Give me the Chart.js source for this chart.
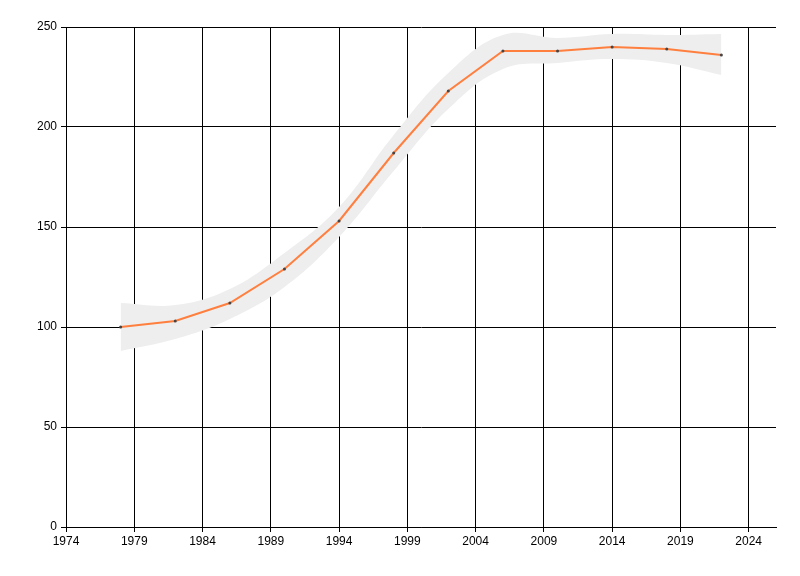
<!DOCTYPE html>
<html>
<head>
<meta charset="utf-8">
<script src="https://cdn.jsdelivr.net/npm/chart.js@4/dist/chart.umd.min.js"></script>
<style>
html,body{margin:0;padding:0;background:#fff;}
#wrap{width:800px;height:576px;}
</style>
</head>
<body>
<div id="wrap"><canvas id="c" width="800" height="576"></canvas></div>
<script>
const years = [1978, 1982, 1986, 1990, 1994, 1998, 2002, 2006, 2010, 2014, 2018, 2022];
const values = [100, 103, 112, 129, 153, 187, 218, 238, 238, 240, 239, 236];
const upperBand = [112, 111, 119, 137, 160, 196, 227, 246, 244.5, 246.5, 246, 246.5];
const lowerBand = [88, 94, 104, 120, 145, 178, 209, 229, 232, 234, 232, 226];
const xTicks = [1974, 1979, 1984, 1989, 1994, 1999, 2004, 2009, 2014, 2019, 2024];
const yTicks = [0, 50, 100, 150, 200, 250];

const toPts = arr => years.map((y, i) => ({x: y, y: arr[i]}));

Chart.defaults.font.family = '"Liberation Sans", Arial, sans-serif';
Chart.defaults.font.size = 12;
Chart.defaults.color = '#000';

new Chart(document.getElementById('c'), {
  type: 'line',
  data: {
    datasets: [
      {
        label: 'value',
        data: toPts(values),
        borderColor: '#ff7f3f',
        borderWidth: 2,
        pointRadius: 1.5,
        pointBackgroundColor: '#444',
        pointBorderColor: '#444',
        pointBorderWidth: 0,
        tension: 0,
        fill: false
      },
      {
        label: 'upper',
        data: toPts(upperBand),
        borderWidth: 0,
        borderColor: 'rgba(0,0,0,0)',
        pointRadius: 0,
        tension: 0.4,
        backgroundColor: '#eeeeee',
        fill: '+1'
      },
      {
        label: 'lower',
        data: toPts(lowerBand),
        borderWidth: 0,
        borderColor: 'rgba(0,0,0,0)',
        pointRadius: 0,
        tension: 0.4,
        fill: false
      }
    ]
  },
  options: {
    responsive: false,
    animation: false,
    layout: {padding: {left: 0, top: 27, right: 24, bottom: 0}},
    plugins: {legend: {display: false}, tooltip: {enabled: false}},
    scales: {
      x: {
        type: 'linear',
        min: 1974,
        max: 2026,
        afterBuildTicks: s => { s.ticks = xTicks.map(v => ({value: v})); },
        afterFit: s => { s.height = 49; },
        ticks: {callback: v => String(v), padding: 2, maxRotation: 0, autoSkip: false},
        grid: {color: '#000', lineWidth: 1, tickLength: 5, drawTicks: true},
        border: {color: '#000', width: 1}
      },
      y: {
        min: 0,
        max: 250,
        afterBuildTicks: s => { s.ticks = yTicks.map(v => ({value: v})); },
        afterFit: s => { s.width = 66; },
        ticks: {padding: 4},
        grid: {color: '#000', lineWidth: 1, tickLength: 5, drawTicks: true},
        border: {color: '#000', width: 1}
      }
    }
  }
});
</script>
</body>
</html>
